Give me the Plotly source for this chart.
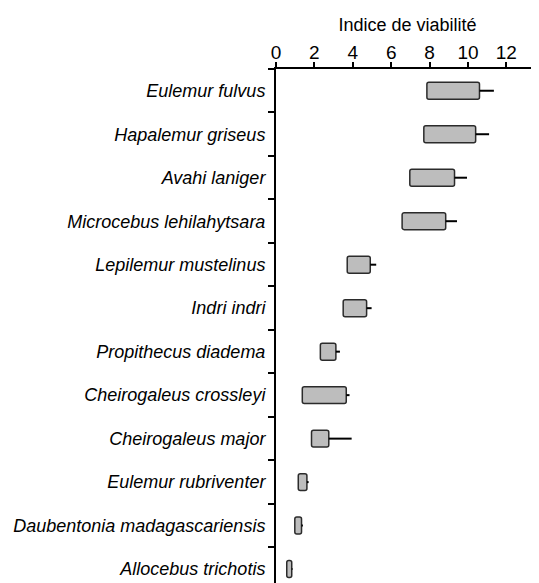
import plotly.graph_objects as go

species = [
    "Eulemur fulvus", "Hapalemur griseus", "Avahi laniger", "Microcebus lehilahytsara",
    "Lepilemur mustelinus", "Indri indri", "Propithecus diadema", "Cheirogaleus crossleyi",
    "Cheirogaleus major", "Eulemur rubriventer", "Daubentonia madagascariensis", "Allocebus trichotis",
]
low = [7.86, 7.7, 6.97, 6.57, 3.71, 3.5, 2.31, 1.37, 1.85, 1.16, 0.98, 0.56]
high = [10.6, 10.4, 9.3, 8.84, 4.91, 4.72, 3.12, 3.66, 2.75, 1.61, 1.33, 0.82]
err_end = [11.35, 11.1, 9.95, 9.43, 5.22, 4.98, 3.33, 3.83, 3.94, 1.7, 1.4, 0.86]
x_ticks = [0, 2, 4, 6, 8, 10, 12]

widths = [h - l for h, l in zip(high, low)]
err_plus = [e - h for e, h in zip(err_end, high)]

fig = go.Figure(go.Bar(
    y=species, x=widths, base=low, orientation="h",
    marker=dict(color="#bdbdbd", line=dict(color="#2b2b2b", width=1.5), cornerradius=2),
    error_x=dict(type="data", array=err_plus, arrayminus=[0] * len(err_plus),
                 symmetric=False, width=0, thickness=2, color="black"),
    width=0.39,
))

fig.update_layout(
    width=531, height=575,
    margin=dict(l=268, r=0, t=61, b=0),
    paper_bgcolor="white", plot_bgcolor="white",
    font=dict(family="Liberation Sans, Arial, sans-serif", size=18, color="black"),
    showlegend=False,
    xaxis=dict(
        side="top", range=[0, 13.7], tickvals=x_ticks, ticktext=[str(t) for t in x_ticks],
        showgrid=False, zeroline=False, showline=True, linecolor="black", linewidth=2,
        ticks="outside", ticklen=5, tickwidth=2, tickcolor="black", automargin=False,
        title=dict(text="Indice de viabilité", standoff=6, font=dict(size=18)),
        tickfont=dict(size=19), ticklabelstandoff=-5,
    ),
    yaxis=dict(
        type="category", range=[11.32, -0.5], showgrid=False, zeroline=False,
        showline=True, linecolor="black", linewidth=2, automargin=False,
        ticks="outside", ticklen=6, tickwidth=2, tickcolor="black", tickson="boundaries",
        tickfont=dict(size=18, style="italic"), ticklabelstandoff=5,
    ),
)

fig.write_html("out.html")
